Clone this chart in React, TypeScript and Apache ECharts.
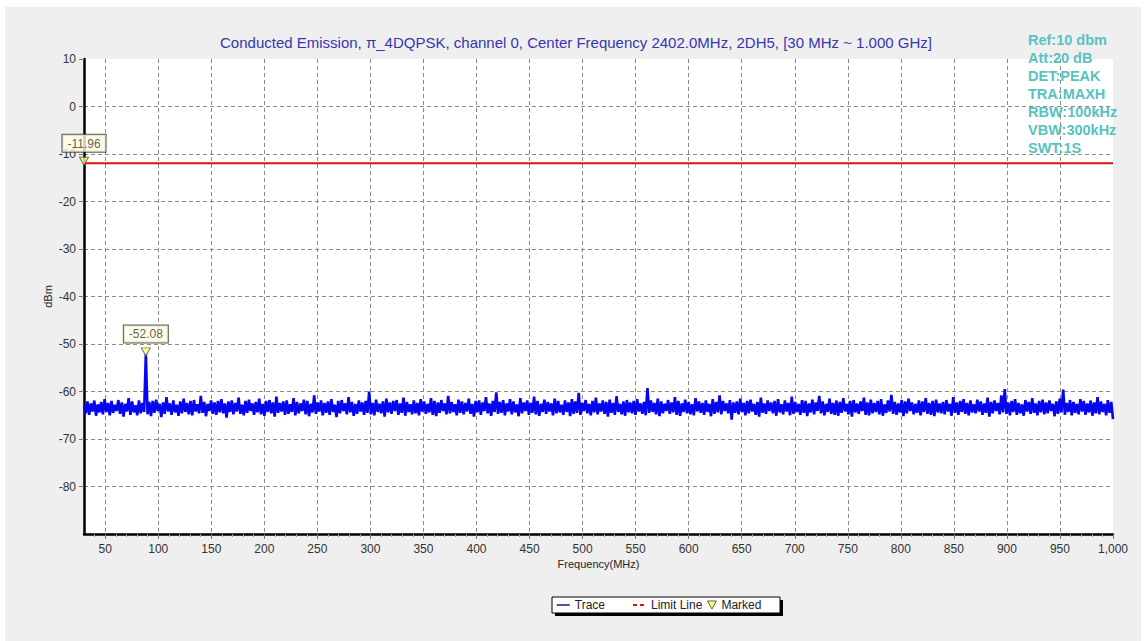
import React, { useEffect, useRef } from 'react';
import * as echarts from 'echarts';

const TITLE = 'Conducted Emission, π_4DQPSK, channel 0, Center Frequency 2402.0MHz, 2DH5, [30 MHz ~ 1.000 GHz]';
const INFO_LINES = ['Ref:10 dbm', 'Att:20 dB', 'DET:PEAK', 'TRA:MAXH', 'RBW:100kHz', 'VBW:300kHz', 'SWT:1S'];
const X_AXIS_NAME = 'Frequency(MHz)';
const Y_AXIS_NAME = 'dBm';
const FREQ_START = 30;
const FREQ_STOP = 1000;
const X_LABEL_TICKS = [50, 100, 150, 200, 250, 300, 350, 400, 450, 500, 550, 600, 650, 700, 750, 800, 850, 900, 950, 1000];
const X_GRID_TICKS = [50, 100, 150, 200, 250, 300, 350, 400, 450, 500, 550, 600, 650, 700, 750, 800, 850, 900, 950];
const Y_MIN = -90;
const Y_MAX = 10;
const Y_LABEL_TICKS = [10, 0, -10, -20, -30, -40, -50, -60, -70, -80];
const Y_GRID_TICKS = [0, -10, -20, -30, -40, -50, -60, -70, -80];
const LIMIT_DBM = -11.96;
const MARKER_FREQS = [30, 88.3];
const MARKER_DBM = [-11.96, -52.08];
const LEGEND_NAMES = ['Trace', 'Limit Line', 'Marked'];

// Trace level in dBm, evenly spaced from 30 MHz to 1000 MHz
const TRACE_DBM = [
  -63.0, -64.6, -62.1, -64.9, -62.5, -64.2, -61.9, -65.1, -62.7, -64.4, -62.2, -64.8, -61.6, -64.3, -62.4, -65.0, -62.0, -64.5, -62.8, -64.1,
  -61.8, -64.7, -62.3, -65.3, -62.6, -64.2, -61.4, -64.9, -62.1, -64.4, -62.9, -65.0, -61.9, -64.6, -62.4, -64.3, -52.08, -64.8, -62.2, -65.2,
  -62.0, -64.5, -61.7, -64.1, -62.6, -65.4, -62.3, -64.7, -61.2, -64.2, -62.5, -64.9, -61.9, -64.4, -62.8, -65.1, -62.1, -64.6, -61.5, -64.3,
  -62.4, -64.8, -62.0, -65.0, -61.8, -64.2, -62.7, -64.6, -60.9, -64.5, -62.2, -65.2, -62.6, -64.1, -61.9, -64.7, -62.3, -64.9, -62.0, -64.4,
  -61.6, -64.6, -62.5, -65.5, -62.1, -64.3, -61.9, -64.8, -62.4, -64.2, -61.3, -64.7, -62.8, -65.0, -62.0, -64.5, -61.7, -64.1, -62.5, -64.9,
  -62.2, -64.4, -61.5, -64.8, -62.6, -65.1, -62.0, -64.3, -61.8, -64.6, -62.3, -65.3, -61.1, -64.5, -62.4, -64.2, -62.1, -64.9, -61.9, -64.7,
  -62.7, -64.3, -61.4, -65.0, -62.2, -64.6, -62.5, -64.1, -61.7, -64.8, -62.0, -65.2, -62.6, -64.4, -60.8, -64.7, -62.3, -64.2, -61.9, -65.0,
  -62.4, -64.5, -62.1, -64.9, -61.6, -64.3, -62.8, -65.4, -62.0, -64.6, -61.8, -64.1, -62.5, -64.8, -61.2, -64.4, -62.2, -65.1, -62.6, -64.7,
  -61.9, -64.2, -62.3, -64.9, -62.0, -64.5, -60.0, -64.8, -62.4, -65.0, -61.7, -64.3, -62.6, -64.6, -62.1, -65.3, -61.5, -64.4, -62.3, -64.7,
  -62.0, -64.1, -61.8, -64.9, -62.5, -64.5, -61.3, -65.1, -62.2, -64.3, -62.7, -64.8, -61.9, -64.6, -62.4, -65.0, -61.6, -64.2, -62.1, -64.7,
  -62.6, -64.4, -61.4, -64.9, -62.0, -65.2, -62.3, -64.5, -61.8, -64.1, -62.5, -64.8, -60.9, -64.6, -62.2, -64.3, -62.7, -65.0, -61.7, -64.5,
  -62.1, -64.8, -62.4, -64.2, -61.5, -64.7, -62.6, -65.3, -62.0, -64.4, -61.9, -64.9, -62.3, -64.1, -61.2, -64.6, -62.5, -65.1, -62.0, -64.3,
  -60.2, -64.7, -62.2, -64.5, -61.8, -65.0, -62.5, -64.2, -61.6, -64.8, -62.1, -64.4, -62.7, -65.2, -61.4, -64.6, -62.3, -64.1, -61.9, -64.9,
  -62.4, -64.5, -61.1, -64.8, -62.0, -65.1, -62.6, -64.3, -61.7, -64.7, -62.2, -64.2, -62.5, -65.0, -61.5, -64.6, -62.0, -64.4, -62.8, -64.9,
  -61.9, -64.3, -62.3, -65.2, -61.6, -64.7, -62.1, -64.5, -60.3, -64.9, -62.4, -64.1, -61.8, -64.6, -62.6, -65.0, -62.0, -64.4, -61.3, -64.8,
  -62.5, -64.2, -61.9, -64.7, -62.2, -65.3, -61.7, -64.5, -62.4, -64.9, -61.0, -64.3, -62.6, -64.8, -62.1, -65.1, -61.8, -64.4, -62.3, -64.6,
  -62.0, -64.9, -61.6, -64.2, -62.5, -64.7, -62.2, -65.0, -59.3, -64.5, -61.9, -64.3, -62.4, -64.8, -61.5, -65.2, -62.1, -64.6, -62.6, -64.1,
  -61.8, -64.7, -62.3, -64.4, -61.2, -64.9, -62.0, -65.1, -62.5, -64.3, -61.7, -64.6, -62.2, -64.8, -62.7, -65.0, -61.4, -64.2, -62.1, -64.5,
  -62.4, -64.9, -61.9, -64.3, -62.6, -65.2, -61.6, -64.7, -62.2, -64.4, -60.8, -64.8, -62.0, -64.1, -62.5, -64.6, -61.8, -65.9, -62.3, -64.5,
  -62.1, -64.8, -61.5, -64.3, -62.4, -65.0, -62.0, -64.6, -61.7, -64.2, -62.6, -64.9, -62.2, -65.3, -61.3, -64.5, -62.5, -64.7, -61.9, -64.1,
  -62.3, -64.6, -62.0, -65.1, -61.6, -64.4, -62.7, -64.8, -61.9, -64.2, -62.4, -65.0, -61.1, -64.7, -62.2, -64.3, -62.6, -64.9, -61.8, -64.5,
  -62.0, -65.2, -62.5, -64.4, -61.7, -64.8, -62.3, -64.1, -60.9, -64.6, -62.1, -65.0, -62.6, -64.3, -61.5, -64.7, -62.4, -64.9, -61.9, -65.1,
  -62.2, -64.5, -61.4, -64.2, -62.6, -64.8, -62.0, -65.3, -61.8, -64.4, -62.5, -64.7, -62.1, -64.1, -61.3, -64.9, -62.3, -65.0, -61.7, -64.6,
  -62.4, -64.3, -62.0, -64.8, -61.6, -65.1, -62.7, -64.5, -61.9, -64.2, -60.7, -64.7, -62.2, -64.9, -62.5, -64.4, -61.8, -65.2, -62.1, -64.6,
  -61.5, -64.1, -62.3, -64.8, -62.6, -64.5, -61.9, -65.0, -62.1, -64.3, -61.4, -64.7, -62.4, -64.9, -62.0, -65.2, -61.7, -64.4, -62.5, -64.6,
  -62.2, -64.8, -61.8, -64.2, -62.6, -65.1, -61.2, -64.5, -62.3, -64.9, -62.0, -64.3, -61.6, -64.7, -62.4, -65.0, -61.9, -64.4, -62.7, -64.6,
  -61.7, -64.2, -62.1, -64.9, -62.5, -64.5, -61.3, -65.3, -62.2, -64.6, -61.9, -64.1, -62.4, -64.8, -60.8, -64.4, -59.5, -64.7, -62.3, -65.0,
  -62.0, -64.3, -61.6, -64.9, -62.4, -64.6, -62.7, -65.1, -61.8, -64.2, -62.2, -64.7, -61.4, -64.5, -62.5, -65.0, -62.0, -64.4, -61.7, -64.8,
  -62.3, -64.6, -61.9, -64.1, -62.6, -65.2, -62.1, -64.7, -61.5, -64.4, -59.6, -64.9, -62.4, -64.3, -61.8, -65.0, -62.2, -64.5, -62.6, -64.8,
  -61.6, -64.2, -62.0, -64.9, -62.5, -64.4, -61.9, -65.1, -62.3, -64.6, -61.2, -64.8, -62.1, -64.3, -62.6, -65.0, -61.8, -64.5, -62.2, -65.8,
];

const FONT = '"Liberation Sans", Arial, sans-serif';

function buildOption() {
  const step = (FREQ_STOP - FREQ_START) / (TRACE_DBM.length - 1);
  const traceData = TRACE_DBM.map((v, i) => [FREQ_START + i * step, v]);
  const limitData = [[FREQ_START, LIMIT_DBM], [FREQ_STOP, LIMIT_DBM]];
  const markerData = MARKER_FREQS.map((f, i) => [f, MARKER_DBM[i]]);
  const minorTicks: number[] = [];
  for (let f = 40; f < FREQ_STOP; f += 10) if (f % 50 !== 0) minorTicks.push(f);

  const gridDash = { color: '#8a8a8a', width: 1, type: [4, 3] as number[] };

  const baseX = {
    type: 'value' as const,
    min: FREQ_START,
    max: FREQ_STOP,
    position: 'bottom' as const,
  };
  const baseY = {
    type: 'value' as const,
    min: Y_MIN,
    max: Y_MAX,
    interval: 10,
    position: 'left' as const,
  };

  const legendCommon = {
    orient: 'horizontal' as const,
    top: 599,
    padding: 0,
    itemWidth: 13,
    itemHeight: 8,
    selectedMode: false,
    textStyle: { fontFamily: FONT, fontSize: 12, color: '#222' },
  };

  return {
    animation: false,
    backgroundColor: '#efefef',
    grid: {
      left: 84,
      top: 59,
      right: 31,
      bottom: 107,
      show: true,
      backgroundColor: '#ffffff',
      borderWidth: 0,
    },
    xAxis: [
      {
        ...baseX,
        name: X_AXIS_NAME,
        nameLocation: 'middle',
        nameGap: 24,
        nameMoveOverlap: false,
        nameTextStyle: { fontFamily: FONT, fontSize: 11, color: '#222' },
        axisLine: { show: true, onZero: false, lineStyle: { color: '#000', width: 2.5 } },
        axisTick: { show: true, length: 5, customValues: X_LABEL_TICKS, lineStyle: { color: '#777' } },
        axisLabel: {
          show: true,
          customValues: X_LABEL_TICKS,
          margin: 9,
          fontFamily: FONT,
          fontSize: 12,
          color: '#333',
          formatter: (v: number) => (v >= 1000 ? v.toLocaleString('en-US') : String(v)),
        },
        splitLine: { show: false },
      },
      {
        ...baseX,
        axisLine: { show: false, onZero: false },
        axisTick: { show: false, customValues: X_GRID_TICKS },
        axisLabel: { show: false, customValues: X_GRID_TICKS },
        splitLine: { show: true, lineStyle: gridDash },
      },
      {
        ...baseX,
        axisLine: { show: false, onZero: false },
        axisTick: { show: true, length: 3, customValues: minorTicks, lineStyle: { color: '#999' } },
        axisLabel: { show: false, customValues: minorTicks },
        splitLine: { show: false },
      },
    ],
    yAxis: [
      {
        ...baseY,
        name: Y_AXIS_NAME,
        nameLocation: 'middle',
        nameGap: 31,
        nameMoveOverlap: false,
        nameTextStyle: { fontFamily: FONT, fontSize: 11, color: '#222' },
        axisLine: { show: true, onZero: false, lineStyle: { color: '#000', width: 2.5 } },
        axisTick: { show: true, length: 5, customValues: Y_LABEL_TICKS, lineStyle: { color: '#777' } },
        axisLabel: {
          show: true,
          customValues: Y_LABEL_TICKS,
          margin: 8,
          fontFamily: FONT,
          fontSize: 12,
          color: '#333',
        },
        splitLine: { show: false },
      },
      {
        ...baseY,
        axisLine: { show: false, onZero: false },
        axisTick: { show: false, customValues: Y_GRID_TICKS },
        axisLabel: { show: false, customValues: Y_GRID_TICKS },
        splitLine: { show: true, lineStyle: gridDash },
      },
    ],
    legend: [
      {
        ...legendCommon,
        left: 556,
        data: [{ name: LEGEND_NAMES[0], itemStyle: { opacity: 0 }, lineStyle: { color: '#1a1a8c', width: 1.5 } }],
      },
      {
        ...legendCommon,
        left: 632,
        data: [{ name: LEGEND_NAMES[1], itemStyle: { opacity: 0 }, lineStyle: { type: [4, 3], width: 2 } }],
      },
      {
        ...legendCommon,
        left: 707,
        itemWidth: 9,
        itemHeight: 8,
        data: [{
          name: LEGEND_NAMES[2],
          icon: 'path://M0,0 L10,0 L5,9 Z',
          itemStyle: { color: '#ffff40', borderColor: '#333', borderWidth: 1 },
        }],
      },
    ],
    graphic: [
      { type: 'rect', silent: true, shape: { x: 0, y: 0, width: 1144, height: 7 }, style: { fill: '#ffffff' } },
      { type: 'rect', silent: true, shape: { x: 0, y: 0, width: 5, height: 641 }, style: { fill: '#ffffff' } },
      { type: 'rect', silent: true, shape: { x: 1141, y: 0, width: 3, height: 641 }, style: { fill: '#ffffff' } },
      {
        type: 'text',
        silent: true,
        z: 100,
        style: {
          text: TITLE,
          x: 576,
          y: 42,
          align: 'center',
          verticalAlign: 'middle',
          fill: '#3636b0',
          font: `15px ${FONT}`,
        },
      },
      ...INFO_LINES.map((line, i) => ({
        type: 'text',
        silent: true,
        z: 100,
        style: {
          text: line,
          x: 1028,
          y: 40 + i * 18,
          align: 'left',
          verticalAlign: 'middle',
          fill: '#58c2c2',
          font: `bold 14.5px ${FONT}`,
        },
      })),
      // legend frame with shadow
      { type: 'rect', silent: true, z: -1, shape: { x: 555, y: 600, width: 228, height: 16 }, style: { fill: '#000' } },
      { type: 'rect', silent: true, z: 0, shape: { x: 552, y: 597, width: 228, height: 16 }, style: { fill: '#fff', stroke: '#000', lineWidth: 1 } },
    ],
    series: [
      {
        name: LEGEND_NAMES[0],
        type: 'line',
        xAxisIndex: 0,
        yAxisIndex: 0,
        data: traceData,
        symbol: 'none',
        lineStyle: { color: '#0505f0', width: 2.6, join: 'miter' },
        itemStyle: { color: '#0505f0' },
        z: 3,
      },
      {
        name: LEGEND_NAMES[1],
        type: 'line',
        xAxisIndex: 0,
        yAxisIndex: 0,
        data: limitData,
        symbol: 'none',
        lineStyle: { color: '#e01010', width: 2 },
        itemStyle: { color: '#e01010' },
        z: 4,
      },
      {
        name: LEGEND_NAMES[2],
        type: 'scatter',
        xAxisIndex: 0,
        yAxisIndex: 0,
        data: markerData,
        symbol: 'triangle',
        symbolRotate: 180,
        symbolSize: [9, 8],
        symbolOffset: [0, -2],
        clip: false,
        itemStyle: { color: '#ffff70', borderColor: '#555', borderWidth: 1 },
        label: {
          show: true,
          position: 'top',
          distance: 5,
          formatter: (p: any) => p.value[1].toFixed(2),
          fontFamily: FONT,
          fontSize: 12,
          color: '#333',
          backgroundColor: '#ffffe1',
          borderColor: '#333',
          borderWidth: 1,
          padding: [3, 5, 2, 5],
        },
        z: 6,
      },
    ],
  };
}

export default function App() {
  const ref = useRef<HTMLDivElement>(null);
  useEffect(() => {
    if (!ref.current) return;
    const chart = echarts.init(ref.current, null, { renderer: 'svg' });
    chart.setOption(buildOption() as any);
    return () => chart.dispose();
  }, []);
  return <div ref={ref} style={{ position: 'fixed', left: 0, top: 0, width: 1144, height: 641 }} />;
}
